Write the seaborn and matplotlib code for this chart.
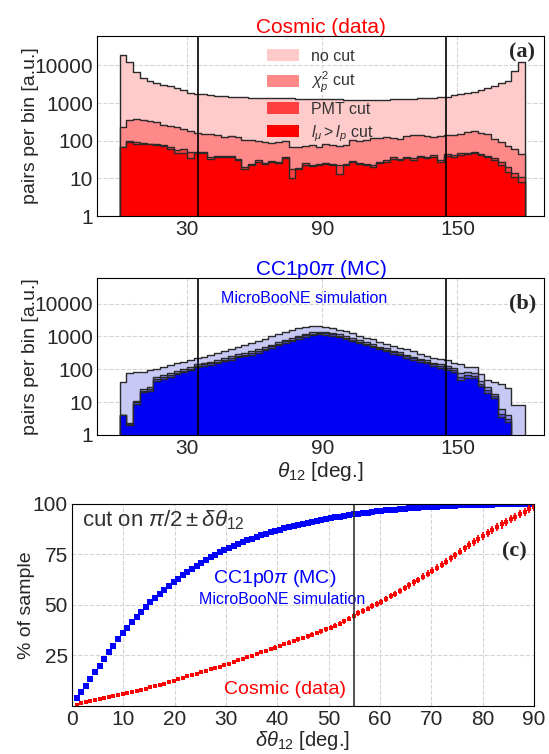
import numpy as np
import pandas as pd
import matplotlib
matplotlib.use("Agg")
import matplotlib.pyplot as plt
import seaborn as sns
from matplotlib.patches import Patch
from matplotlib.ticker import NullLocator

# ----------------------------------------------------
# data
# ----------------------------------------------------

# theta_12 binning: 60 bins of 3 deg, 0 -> 180
theta_edges = np.linspace(0, 180, 61)

cosmic_nocut = [18500, 12000, 6500, 4700, 3900, 3500, 3100, 2800, 2450, 2200,
                1900, 1780, 1700, 1630, 1570, 1510, 1470, 1440, 1410, 1390,
                1380, 1360, 1350, 1340, 1330, 1320, 1310, 1300, 1290, 1280,
                1270, 1260, 1250, 1240, 1230, 1220, 1220, 1210, 1220, 1230,
                1250, 1260, 1280, 1300, 1320, 1350, 1380, 1420, 1470, 1590,
                1700, 1830, 2000, 2200, 2450, 2800, 3300, 3950, 6900, 12500]
cosmic_chi2 = [234, 350, 370, 350, 335, 305, 265, 240, 235, 200,
               180, 160, 150, 152, 141, 127, 133, 122, 104, 104,
               96, 90, 85, 90, 96, 67, 70, 74, 76, 70,
               81, 78, 72, 76, 105, 100, 102, 115, 118, 125,
               118, 110, 130, 142, 145, 135, 127, 135, 142, 144,
               146, 165, 180, 160, 148, 110, 92, 74, 60, 45]
cosmic_pmt = [70, 100, 90, 85, 82, 80, 75, 67, 55, 60,
              49, 50, 50, 36, 40, 40, 39, 32, 20, 24,
              30, 26, 29, 27, 36, 18, 19, 25, 23, 24,
              26, 24, 22, 24, 29, 26, 24, 23, 27, 30,
              37, 33, 38, 34, 40, 37, 41, 31, 44, 42,
              46, 48, 50, 45, 40, 35, 27, 20, 14, 11]
cosmic_lmu = [67, 90, 82, 80, 80, 78, 72, 62, 46, 47,
              35, 48, 48, 33, 37, 38, 38, 30, 18, 22,
              28, 24, 27, 25, 34, 10, 18, 23, 21, 22,
              24, 22, 13, 22, 27, 24, 22, 20, 25, 27,
              33, 30, 35, 31, 37, 35, 38, 28, 40, 38,
              42, 45, 48, 42, 36, 30, 22, 15, 11, 8]

mc_nocut = [40, 75, 80, 85, 95, 105, 118, 132, 150, 170,
            195, 220, 240, 270, 310, 350, 400, 480, 540, 620,
            740, 860, 1020, 1200, 1400, 1600, 1800, 1950, 2100, 2050,
            1950, 1800, 1620, 1420, 1230, 1050, 920, 810, 700, 590,
            510, 450, 400, 350, 290, 250, 225, 200, 185, 160,
            140, 120, 115, 70, 48, 40, 36, 26, 8, 8]
mc_chi2 = [4, 2.3, 11, 25, 28, 58, 66, 76, 88, 100,
           115, 140, 155, 170, 190, 220, 245, 285, 310, 350,
           400, 470, 560, 660, 800, 900, 1050, 1200, 1330, 1380,
           1350, 1270, 1150, 1000, 880, 760, 660, 570, 490, 430,
           370, 325, 280, 240, 210, 185, 160, 140, 122, 106,
           75, 80, 78, 45, 28, 18, 6, 4, 0, 0]
mc_pmt = [4, 2.2, 10, 22, 25, 50, 58, 67, 78, 90,
          102, 127, 140, 153, 172, 198, 218, 255, 278, 312,
          355, 420, 500, 590, 710, 800, 940, 1080, 1210, 1260,
          1230, 1150, 1040, 910, 790, 680, 590, 510, 440, 385,
          330, 290, 250, 215, 188, 165, 143, 124, 108, 94,
          60, 66, 64, 36, 23, 15, 4.5, 3, 0, 0]
mc_lmu = [4, 2, 9, 20, 22, 45, 52, 60, 70, 80,
          92, 115, 128, 138, 155, 178, 195, 230, 250, 280,
          315, 380, 450, 530, 640, 720, 850, 980, 1100, 1150,
          1120, 1050, 950, 830, 720, 620, 540, 460, 400, 350,
          300, 265, 225, 195, 170, 150, 130, 112, 98, 85,
          48, 55, 55, 30, 19, 13, 3.6, 2.5, 0, 0]

cut_labels = ["no cut", r"$\chi^2_p$ cut", "PMT cut", r"$l_\mu > l_p$ cut"]
theta_cuts = [35, 145]

# cut scan: delta theta_12 in steps of 0.9 deg
dtheta = np.round(np.linspace(0.9, 90, 100), 1)

mc_frac = [3.7, 6.8, 9.9, 13.2, 16.7, 19.9, 23.2, 26.4, 29.6, 33.0,
           36.0, 38.7, 41.4, 43.9, 46.3, 48.7, 51.1, 53.3, 55.4, 57.4,
           59.3, 61.1, 62.9, 64.5, 66.1, 67.7, 69.3, 70.7, 72.1, 73.5,
           74.8, 75.9, 77.0, 78.1, 79.1, 80.1, 81.0, 81.9, 82.7, 83.5,
           84.3, 85.1, 85.8, 86.5, 87.2, 87.8, 88.4, 89.0, 89.6, 90.1,
           90.6, 91.1, 91.6, 92.0, 92.4, 92.8, 93.2, 93.6, 94.0, 94.3,
           94.7, 95.0, 95.3, 95.6, 95.9, 96.2, 96.5, 96.7, 96.9, 97.1,
           97.3, 97.5, 97.7, 97.9, 98.1, 98.2, 98.4, 98.5, 98.6, 98.7,
           98.8, 98.9, 99.0, 99.1, 99.2, 99.3, 99.3, 99.4, 99.4, 99.5,
           99.5, 99.6, 99.6, 99.7, 99.7, 99.8, 99.8, 99.9, 99.9, 100.0]
cosmic_frac = [0.6, 1.2, 1.8, 2.3, 2.8, 3.3, 3.8, 4.3, 4.8, 5.3,
               5.8, 6.3, 6.8, 7.3, 7.9, 8.5, 9.1, 9.7, 10.3, 11.0,
               11.7, 12.4, 13.1, 13.8, 14.5, 15.2, 15.9, 16.6, 17.3, 18.0,
               18.7, 19.4, 20.1, 20.8, 21.6, 22.4, 23.2, 24.0, 24.8, 25.6,
               26.4, 27.2, 28.0, 28.8, 29.6, 30.4, 31.2, 32.0, 32.8, 33.6,
               34.4, 35.2, 36.0, 36.9, 37.8, 38.7, 39.6, 40.6, 41.7, 43.0,
               44.4, 45.8, 47.0, 48.1, 49.2, 50.3, 51.4, 52.8, 54.2, 55.5,
               56.9, 58.2, 59.6, 61.0, 62.3, 63.8, 65.3, 66.8, 68.3, 69.8,
               71.3, 72.9, 74.5, 76.2, 77.9, 79.6, 81.1, 82.6, 84.1, 85.6,
               87.0, 88.4, 89.7, 91.0, 92.3, 93.6, 94.9, 96.1, 97.3, 98.4]
cosmic_frac_err = [0.2, 0.25, 0.3, 0.3, 0.35, 0.35, 0.4, 0.4, 0.4, 0.45,
                   0.45, 0.5, 0.5, 0.5, 0.55, 0.55, 0.6, 0.6, 0.6, 0.65,
                   0.65, 0.65, 0.7, 0.7, 0.7, 0.75, 0.75, 0.75, 0.8, 0.8,
                   0.8, 0.85, 0.85, 0.85, 0.9, 0.9, 0.9, 0.95, 0.95, 0.95,
                   1.0, 1.0, 1.0, 1.05, 1.05, 1.05, 1.1, 1.1, 1.1, 1.15,
                   1.15, 1.15, 1.2, 1.2, 1.2, 1.25, 1.25, 1.3, 1.3, 1.3,
                   1.35, 1.35, 1.4, 1.4, 1.4, 1.45, 1.45, 1.5, 1.5, 1.5,
                   1.55, 1.55, 1.6, 1.6, 1.6, 1.65, 1.65, 1.7, 1.7, 1.7,
                   1.75, 1.75, 1.8, 1.8, 1.8, 1.85, 1.85, 1.9, 1.9, 1.9,
                   1.95, 1.95, 2.0, 2.0, 2.0, 2.0, 2.0, 2.0, 2.0, 2.0]
dtheta_cut = 55

# ----------------------------------------------------
# style
# ----------------------------------------------------

sns.set_style("whitegrid", {"grid.linestyle": "--", "grid.color": "#d4d4d4",
                            "axes.edgecolor": "black", "axes.linewidth": 1.2})
plt.rcParams["font.family"] = ["Liberation Sans", "DejaVu Sans"]
plt.rcParams["mathtext.fontset"] = "custom"
plt.rcParams["mathtext.rm"] = "Liberation Sans"
plt.rcParams["mathtext.it"] = "Liberation Sans:italic"
plt.rcParams["mathtext.bf"] = "Liberation Sans:bold"
plt.rcParams["grid.linewidth"] = 0.8

red_cols = ["#ffcaca", "#ff8888", "#ff4040", "#ff0000"]
blue_cols = ["#c8c8f5", "#9494ee", "#4a4aee", "#0000f5"]
edge_col = "#2a2a2a"

fig = plt.figure(figsize=(5.49, 7.54), dpi=100)
ax_a = fig.add_axes([0.177, 0.7135, 0.814, 0.2387])
ax_b = fig.add_axes([0.177, 0.4231, 0.814, 0.2082])
ax_c = fig.add_axes([0.131, 0.0640, 0.8415, 0.2680])

centers = (theta_edges[:-1] + theta_edges[1:]) / 2


def draw_panel(ax, series, colors):
    for vals, col in zip(series, colors):
        df = pd.DataFrame({"theta": centers,
                           "w": np.clip(np.asarray(vals, dtype=float), 1e-2, None)})
        sns.histplot(data=df, x="theta", weights="w", bins=list(theta_edges),
                     element="step", fill=True, color=col, alpha=1,
                     edgecolor=edge_col, linewidth=1.0, ax=ax)
    ax.set_yscale("log")
    ax.set_xlim(-10, 188.5)
    ax.set_ylim(1, 6e4)
    ax.set_xticks([30, 90, 150])
    ax.set_yticks([1, 10, 100, 1000, 10000])
    ax.set_yticklabels(["1", "10", "100", "1000", "10000"])
    ax.yaxis.set_minor_locator(NullLocator())
    ax.tick_params(length=0, labelsize=15, pad=3)
    for x in theta_cuts:
        ax.axvline(x, color="black", lw=1.2, zorder=5)
    ax.set_ylabel("pairs per bin [a.u.]", fontsize=14, labelpad=-3)
    ax.set_xlabel("")
    for s in ax.spines.values():
        s.set_zorder(6)


# ----------------------------------------------------
# (a) cosmic data
# ----------------------------------------------------
draw_panel(ax_a, [cosmic_nocut, cosmic_chi2, cosmic_pmt, cosmic_lmu], red_cols)
ax_a.set_title("Cosmic (data)", color="red", fontsize=15, pad=2)
handles = [Patch(facecolor=c, edgecolor="none") for c in red_cols]
leg = ax_a.legend(handles, cut_labels, loc="upper left", bbox_to_anchor=(0.365, 0.965),
                  frameon=False, fontsize=11.5, handlelength=2.0, handleheight=0.8,
                  labelspacing=0.4, handletextpad=0.8, borderaxespad=0)
leg.set_zorder(10)
for t in leg.get_texts():
    t.set_color("#333333")
ax_a.text(0.95, 0.91, "(a)", transform=ax_a.transAxes, ha="center", va="center",
          fontsize=16, fontweight="bold", family="Liberation Serif", zorder=7)

# ----------------------------------------------------
# (b) CC1p0pi simulation
# ----------------------------------------------------
draw_panel(ax_b, [mc_nocut, mc_chi2, mc_pmt, mc_lmu], blue_cols)
ax_b.set_title(r"CC1p0$\pi$ (MC)", color="blue", fontsize=15, pad=2)
ax_b.set_xlabel(r"$\theta_{12}$ [deg.]", fontsize=15, labelpad=1)
ax_b.text(82, 1.45e4, "MicroBooNE simulation", color="blue", fontsize=11.5,
          ha="center", va="center")
ax_b.text(0.953, 0.84, "(b)", transform=ax_b.transAxes, ha="center", va="center",
          fontsize=16, fontweight="bold", family="Liberation Serif", zorder=7)

# ----------------------------------------------------
# (c) efficiency of the pi/2 +- dtheta cut
# ----------------------------------------------------
sns.scatterplot(x=dtheta, y=mc_frac, marker="s", s=13, color="blue",
                linewidth=0, ax=ax_c, zorder=3)
ax_c.errorbar(dtheta, cosmic_frac, yerr=cosmic_frac_err, fmt="s", ms=2.6,
              markeredgewidth=0, color="red", ecolor="red", elinewidth=1.3,
              capsize=1.0, capthick=1.0, zorder=3)
ax_c.axvline(dtheta_cut, color="#333333", lw=1.2, zorder=4)
ax_c.set_xlim(0, 90)
ax_c.set_ylim(0, 100)
ax_c.set_xticks(np.arange(0, 91, 10))
ax_c.set_yticks([25, 50, 75, 100])
ax_c.tick_params(length=0, labelsize=15, pad=3)
ax_c.set_xlabel(r"$\delta\theta_{12}$ [deg.]", fontsize=14.5, labelpad=0)
ax_c.set_ylabel("% of sample", fontsize=14, labelpad=-2)
ax_c.text(2, 92, r"cut on $\pi/2 \pm \delta\theta_{12}$", fontsize=16,
          color="#333333", va="center", ha="left")
ax_c.text(39.5, 63, r"CC1p0$\pi$ (MC)", color="blue", fontsize=14,
          ha="center", va="center")
ax_c.text(41, 52.5, "MicroBooNE simulation", color="blue", fontsize=11.5,
          ha="center", va="center")
ax_c.text(41.5, 8, "Cosmic (data)", color="red", fontsize=14,
          ha="center", va="center")
ax_c.text(86.2, 76.5, "(c)", ha="center", va="center", fontsize=16,
          fontweight="bold", family="Liberation Serif")
for s in ax_c.spines.values():
    s.set_zorder(6)

fig.savefig("out.png", dpi=100)
plt.close(fig)
